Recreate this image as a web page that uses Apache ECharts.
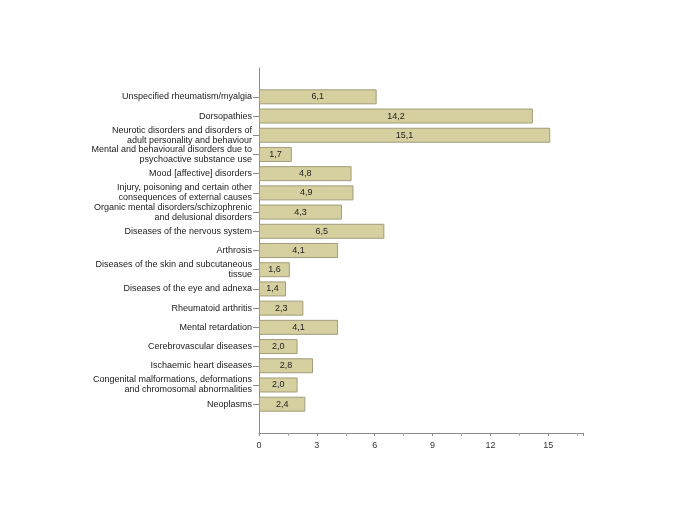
<!DOCTYPE html>
<html>
<head>
<meta charset="utf-8">
<script src="https://cdn.jsdelivr.net/npm/echarts@6/dist/echarts.min.js"></script>
<style>html,body{margin:0;padding:0;background:#fff;}#c{width:685px;height:513px;}</style>
</head>
<body>
<div id="c"></div>
<script>
const categories = [
  "Unspecified rheumatism/myalgia",
  "Dorsopathies",
  "Neurotic disorders and disorders of\nadult personality and behaviour",
  "Mental and behavioural disorders due to\npsychoactive substance use",
  "Mood [affective] disorders",
  "Injury, poisoning and certain other\nconsequences of external causes",
  "Organic mental disorders/schizophrenic\nand delusional disorders",
  "Diseases of the nervous system",
  "Arthrosis",
  "Diseases of the skin and subcutaneous\ntissue",
  "Diseases of the eye and adnexa",
  "Rheumatoid arthritis",
  "Mental retardation",
  "Cerebrovascular diseases",
  "Ischaemic heart diseases",
  "Congenital malformations, deformations\nand chromosomal abnormalities",
  "Neoplasms"
];
const values = [6.1, 14.2, 15.1, 1.7, 4.8, 4.9, 4.3, 6.5, 4.1, 1.6, 1.4, 2.3, 4.1, 2.0, 2.8, 2.0, 2.4];
const xTicks = [0, 3, 6, 9, 12, 15];

// padded categories (empty slots at both ends)
const cats = [""].concat(categories).concat([""]);
const vals = [null].concat(values).concat([null]);

const chart = echarts.init(document.getElementById('c'));
chart.setOption({
  animation: false,
  backgroundColor: '#fff',
  grid: { left: 259, right: 102, top: 68, bottom: 80, containLabel: false },
  xAxis: {
    type: 'value', min: 0, max: 16.8, interval: 3,
    axisLine: { show: true, lineStyle: { color: '#8a8a8a', width: 1 } },
    axisTick: { show: true, length: 3, lineStyle: { color: '#8a8a8a' } },
    minorTick: { show: true, splitNumber: 2, length: 3, lineStyle: { color: '#aaa' } },
    splitLine: { show: false },
    axisLabel: {
      fontFamily: 'Liberation Sans, Arial, sans-serif', fontSize: 9, color: '#333', margin: 8,
      showMaxLabel: false,
      formatter: v => xTicks.includes(v) ? String(v) : ''
    }
  },
  yAxis: {
    type: 'category', data: cats, inverse: true,
    axisLine: { show: true, lineStyle: { color: '#8a8a8a', width: 1 } },
    axisTick: { show: true, length: 6, alignWithLabel: true, interval: (i) => i > 0 && i < cats.length - 1, lineStyle: { color: '#8a8a8a' } },
    axisLabel: {
      interval: 0, fontFamily: 'Liberation Sans, Arial, sans-serif', fontSize: 9, color: '#222',
      margin: 7, lineHeight: 10, align: 'right'
    }
  },
  series: [{
    type: 'bar', data: vals, barWidth: 15,
    itemStyle: { color: '#d6cf9f', borderColor: '#a19c7b', borderWidth: 1 },
    label: {
      show: true, position: 'inside', color: '#222', fontSize: 9,
      fontFamily: 'Liberation Sans, Arial, sans-serif',
      formatter: p => p.value == null ? '' : p.value.toFixed(1).replace('.', ',')
    }
  }]
});
</script>
</body>
</html>
